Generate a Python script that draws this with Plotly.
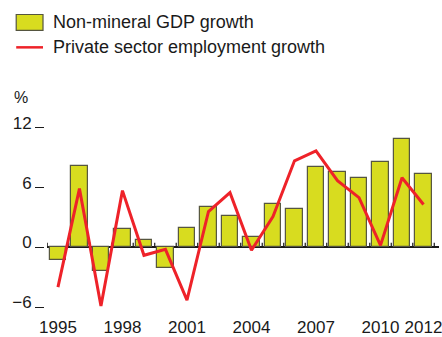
import plotly.graph_objects as go

years = list(range(1995, 2013))
gdp_growth = [-1.3, 8.2, -2.4, 1.8, 0.7, -2.1, 1.9, 4.1, 3.1, 1.0,
              4.4, 3.9, 8.1, 7.6, 7.0, 8.6, 10.9, 7.4]
employment_growth = [-4.0, 5.9, -5.9, 5.7, -0.8, -0.2, -5.3, 3.6, 5.5, -0.3,
                     3.1, 8.7, 9.7, 6.7, 5.0, 0.2, 7.0, 4.3]
x_tick_vals = [1995, 1998, 2001, 2004, 2007, 2010, 2012]
y_tick_vals = [-6, 0, 6, 12]
y_tick_text = ["\u22126", "0", "6", "12"]

BAR_COLOR = "#D8DC1F"
BAR_EDGE = "#55553f"
LINE_COLOR = "#EE2229"
TEXT = "#1a1a1a"
FONT = "Liberation Sans"

MARGIN_L = 44
PLOT_W = 442 - MARGIN_L

fig = go.Figure()

fig.add_trace(go.Bar(
    x=years, y=gdp_growth, width=0.75, name="Non-mineral GDP growth",
    marker=dict(color=BAR_COLOR, line=dict(color=BAR_EDGE, width=1.2)),
    showlegend=False,
))

# small category-boundary ticks on the zero line
bx, by = [], []
for yr in years + [years[0] - 1]:
    b = yr + 0.5
    bx += [b, b, None]
    by += [0, 0.45, None]
fig.add_trace(go.Scatter(x=bx, y=by, mode="lines",
                         line=dict(color=TEXT, width=1.2),
                         showlegend=False, hoverinfo="skip"))

fig.add_trace(go.Scatter(
    x=years, y=employment_growth, mode="lines",
    name="Private sector employment growth",
    line=dict(color=LINE_COLOR, width=3), showlegend=False,
))

def px_x(p):
    return (p - MARGIN_L) / float(PLOT_W)

def px_y(p):
    return (316 - p) / 200.0

shapes = [
    dict(type="rect", xref="paper", yref="paper",
         x0=px_x(16), x1=px_x(43), y0=px_y(30), y1=px_y(14),
         fillcolor=BAR_COLOR, line=dict(color=BAR_EDGE, width=1.2)),
    dict(type="line", xref="paper", yref="paper",
         x0=px_x(16), x1=px_x(43), y0=px_y(47), y1=px_y(47),
         line=dict(color=LINE_COLOR, width=2.5)),
]
annotations = [
    dict(text="Non-mineral GDP growth", xref="paper", yref="paper",
         x=px_x(51), y=px_y(22), xanchor="left", yanchor="middle",
         showarrow=False, font=dict(size=18, color=TEXT, family=FONT)),
    dict(text="Private sector employment growth", xref="paper", yref="paper",
         x=px_x(51), y=px_y(47), xanchor="left", yanchor="middle",
         showarrow=False, font=dict(size=18, color=TEXT, family=FONT)),
    dict(text="%", xref="paper", yref="paper",
         x=px_x(21), y=px_y(97), xanchor="center", yanchor="middle",
         showarrow=False, font=dict(size=16, color=TEXT, family=FONT)),
]

fig.update_layout(
    width=442, height=337,
    margin=dict(l=MARGIN_L, r=0, t=116, b=21),
    paper_bgcolor="white", plot_bgcolor="white",
    font=dict(family=FONT, size=17, color=TEXT),
    shapes=shapes, annotations=annotations,
    bargap=0,
    xaxis=dict(domain=[3.0 / PLOT_W, 1],
               range=[1994.49, 2012.72], tickvals=x_tick_vals,
               showgrid=False, zeroline=False, showline=False,
               ticks="", ticklabeloverflow="allow",
               tickfont=dict(size=17, color=TEXT)),
    yaxis=dict(anchor="free", position=0,
               range=[-6.8, 13.2], tickvals=y_tick_vals, ticktext=y_tick_text,
               showgrid=False, zeroline=True, zerolinecolor=TEXT,
               zerolinewidth=1.8, showline=False,
               ticks="outside", ticklen=9, tickcolor=TEXT, tickwidth=1.2,
               ticklabelshift=-5,
               tickfont=dict(size=17, color=TEXT)),
)

fig.write_html("out.html",
               config={"displayModeBar": False},
               post_script="document.body.style.margin='0';document.body.style.overflow='hidden';")
